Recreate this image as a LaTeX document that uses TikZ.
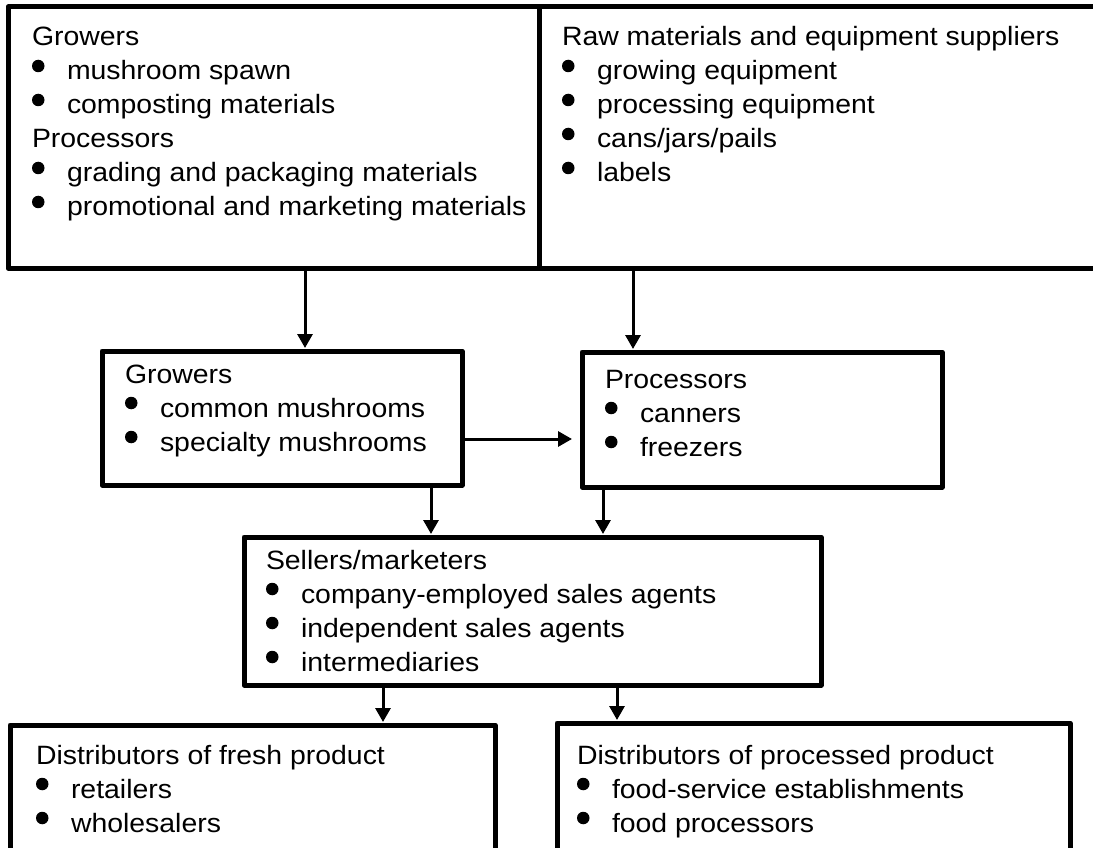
\documentclass[tikz,border=0pt]{standalone}
\usepackage{fontspec}
\setmainfont{Liberation Sans}[FakeStretch=1.072]
\usetikzlibrary{arrows.meta}
\newcommand\bitem[1]{\hbox{\makebox[35pt][l]{\raisebox{7.75pt}{\tikz\fill (0,0) circle[radius=6.25pt];}}#1}}
\newcommand\tline[1]{\hbox{#1}}
\newcommand\boxlines[1]{\vtop{\baselineskip=34pt\lineskiplimit=-100pt\lineskip=0pt #1}}
\begin{document}
\begin{tikzpicture}[x=1pt,y=-1pt,
  box/.style={draw,line width=5pt,line join=round,rectangle,inner sep=0pt,outer sep=0pt,anchor=north west},
  txt/.style={anchor=base west,inner sep=0pt,outer sep=0pt,font=\fontsize{26.5pt}{34pt}\selectfont},
  arr/.style={line width=3pt,-{Triangle[length=14pt,width=15pt]}}]
\useasboundingbox (0,0) rectangle (1093,848);
\fill[white] (0,0) rectangle (1093,848);
\clip (0,0) rectangle (1093,848);
% boxes
\node[box,minimum width=531pt,minimum height=261pt] (tl) at (8,7) {};
\node[box,minimum width=600pt,minimum height=261pt] (tr) at (539,7) {};
\node[box,minimum width=360pt,minimum height=134pt] (g) at (102,351) {};
\node[box,minimum width=360pt,minimum height=135pt] (p) at (582,352) {};
\node[box,minimum width=577pt,minimum height=148pt] (s) at (244,537) {};
\node[box,minimum width=485pt,minimum height=150pt] (bl) at (10,725) {};
\node[box,minimum width=513pt,minimum height=150pt] (br) at (557,723) {};
% texts
\node[txt] (tlt) at (32,46) {\boxlines{\tline{Growers}\bitem{mushroom spawn}\bitem{composting materials}\tline{Processors}\bitem{grading and packaging materials}\bitem{promotional and marketing materials}}};
\node[txt] (trt) at (562,46) {\boxlines{\tline{Raw materials and equipment suppliers}\bitem{growing equipment}\bitem{processing equipment}\bitem{cans/jars/pails}\bitem{labels}}};
\node[txt] (gt) at (125,383) {\boxlines{\tline{Growers}\bitem{common mushrooms}\bitem{specialty mushrooms}}};
\node[txt] (pt) at (605,388) {\boxlines{\tline{Processors}\bitem{canners}\bitem{freezers}}};
\node[txt] (st) at (266,569) {\boxlines{\tline{Sellers/marketers}\bitem{company-employed sales agents}\bitem{independent sales agents}\bitem{intermediaries}}};
\node[txt] (blt) at (36,764) {\boxlines{\tline{Distributors of fresh product}\bitem{retailers}\bitem{wholesalers}}};
\node[txt] (brt) at (577,764) {\boxlines{\tline{Distributors of processed product}\bitem{food-service establishments}\bitem{food processors}}};
% connector x positions
\coordinate (x1) at (305,0);
\coordinate (x2) at (633,0);
\coordinate (x3) at (431,0);
\coordinate (x4) at (603,0);
\coordinate (x5) at (383,0);
\coordinate (x6) at (617,0);
\coordinate (yh) at (0,439);
% connectors
\draw[arr,shorten >=3pt] (tl.south -| x1) -- (g.north -| x1);
\draw[arr,shorten >=3pt] (tr.south -| x2) -- (p.north -| x2);
\draw[arr,shorten >=10pt] (g.east |- yh) -- (p.west |- yh);
\draw[arr,shorten >=3pt] (g.south -| x3) -- (s.north -| x3);
\draw[arr,shorten >=3pt] (p.south -| x4) -- (s.north -| x4);
\draw[arr,shorten >=3pt] (s.south -| x5) -- (bl.north -| x5);
\draw[arr,shorten >=3pt] (s.south -| x6) -- (br.north -| x6);
\end{tikzpicture}
\end{document}
